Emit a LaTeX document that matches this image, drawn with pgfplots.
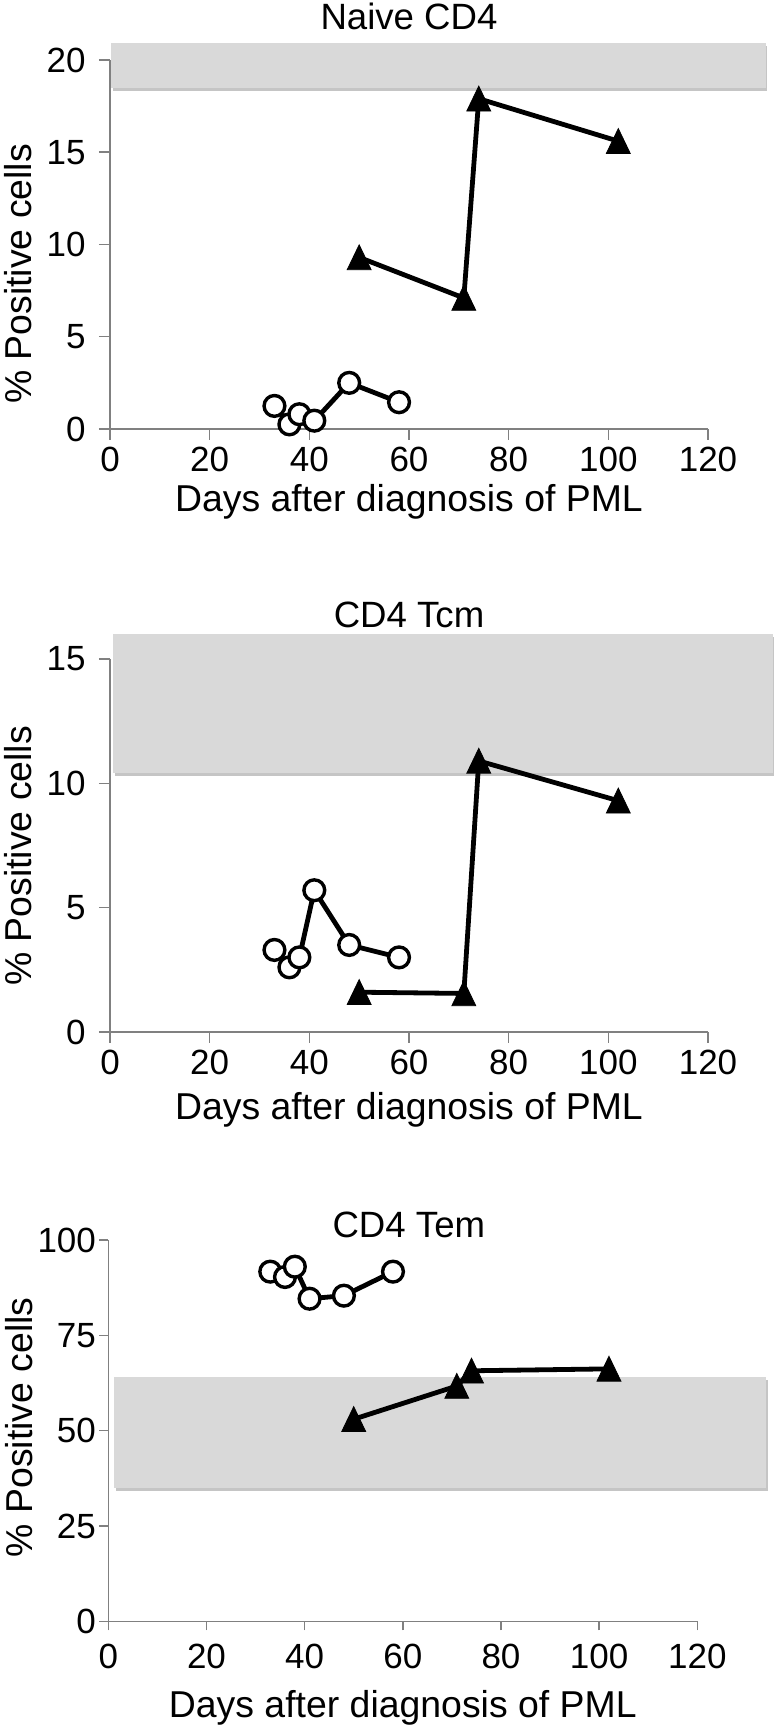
\documentclass[border=0pt]{standalone}
\usepackage{fontspec}
\setmainfont{Liberation Sans}
\usepackage{pgfplots}
\pgfplotsset{compat=1.18}

\definecolor{band}{RGB}{217,217,217}
\definecolor{bandshadow}{RGB}{150,150,150}
\definecolor{axgray}{RGB}{128,128,128}
\newcommand\tickfont{\fontsize{17.5pt}{21pt}\selectfont}
\newcommand\titlefont{\fontsize{18.3pt}{22pt}\selectfont}
\newcommand\labelfont{\fontsize{18.7pt}{22pt}\selectfont}

\pgfplotsset{
  pmlpanel/.style={
    scale only axis, anchor=south west, clip=false,
    axis x line*=bottom, axis y line*=left,
    axis line style={axgray, line width=0.75pt},
    tick style={axgray, line width=0.75pt},
    tick align=outside, major tick length=5.5pt,
    xmin=0, xmax=120, xtick={0,20,...,120},
    ymin=0,
    /pgf/number format/assume math mode=true,
    tick label style={font=\tickfont, text=black, inner sep=0pt},
    % the default title style already adds yshift=6pt
    title style={font=\titlefont, anchor=base},
    xlabel={Days after diagnosis of PML},
    ylabel={\% Positive cells},
    label style={font=\labelfont},
    xlabel style={anchor=base},
    ylabel style={anchor=base},
  },
  shadowband/.style={fill=bandshadow, draw=none, opacity=0.55, xshift=0.8pt, yshift=-1.4pt},
  mainband/.style={fill=band, draw=none},
  patientA/.style={black, line width=2.4pt, mark=*, mark size=5.2pt,
    mark options={solid, fill=white, draw=black, line width=1.7pt}},
  patientB/.style={black, line width=2.4pt, mark=triangle*, mark size=6.9pt,
    mark options={solid, fill=black, draw=black, line width=0.4pt, yshift=-2pt, yscale=1.2}},
}

\begin{document}
\begin{tikzpicture}
\useasboundingbox (0,0) rectangle (388.5pt,863.5pt);

% Naive CD4
\begin{axis}[pmlpanel, at={(55pt,649pt)}, width=299pt, height=184.5pt,
  ymax=20, ytick={0,5,...,20}, title={Naive CD4},
  yticklabel style={xshift=-6.5pt}, xticklabel style={yshift=-3.3pt},
  title style={at={([yshift=9pt]axis description cs:0.5,1)}},
  xlabel style={at={([yshift=-41.5pt]axis description cs:0.5,0)}},
  ylabel style={at={([xshift=-39pt]axis description cs:0,0.42)}}]
  \addplot[shadowband] coordinates {(0.3,18.47) (131.6,18.47) (131.6,20.9) (0.3,20.9)} -- cycle;
  \addplot[mainband] coordinates {(0.3,18.47) (131.6,18.47) (131.6,20.9) (0.3,20.9)} -- cycle;
  \addplot[patientA] coordinates {(33,1.25) (36,0.25) (38,0.8) (41,0.45) (48,2.5) (58,1.45)};
  \addplot[patientB] coordinates {(50,9.3) (71,7.1) (74,17.9) (102,15.6)};
\end{axis}

% CD4 Tcm
\begin{axis}[pmlpanel, at={(55pt,347.5pt)}, width=299pt, height=186.5pt,
  ymax=15, ytick={0,5,...,15}, title={CD4 Tcm},
  yticklabel style={xshift=-6.5pt}, xticklabel style={yshift=-3.3pt},
  title style={at={([yshift=9.8pt]axis description cs:0.5,1)}},
  xlabel style={at={([yshift=-44pt]axis description cs:0.5,0)}},
  ylabel style={at={([xshift=-39pt]axis description cs:0,0.472)}}]
  \addplot[shadowband] coordinates {(0.6,10.4) (133,10.4) (133,16) (0.6,16)} -- cycle;
  \addplot[mainband] coordinates {(0.6,10.4) (133,10.4) (133,16) (0.6,16)} -- cycle;
  \addplot[patientA] coordinates {(33,3.3) (36,2.6) (38,3.0) (41,5.7) (48,3.5) (58,3.0)};
  \addplot[patientB] coordinates {(50,1.6) (71,1.55) (74,10.9) (102,9.3)};
\end{axis}

% CD4 Tem
\begin{axis}[pmlpanel, at={(54.15pt,52.85pt)}, width=294.5pt, height=190.65pt,
  ymax=100, ytick={0,25,...,100}, title={CD4 Tem},
  major tick length=4.5pt,
  yticklabel style={xshift=-1.5pt}, xticklabel style={yshift=-6.8pt},
  title style={at={([xshift=3pt,yshift=-5pt]axis description cs:0.5,1)}},
  xlabel style={at={([yshift=-48pt]axis description cs:0.5,0)}},
  ylabel style={at={([xshift=-38pt]axis description cs:0,0.509)}}]
  \addplot[shadowband] coordinates {(1.2,35) (134,35) (134,64) (1.2,64)} -- cycle;
  \addplot[mainband] coordinates {(1.2,35) (134,35) (134,64) (1.2,64)} -- cycle;
  \addplot[patientA] coordinates {(33,91.7) (36,90.3) (38,93.0) (41,84.6) (48,85.4) (58,91.7)};
  \addplot[patientB] coordinates {(50,53.0) (71,61.7) (74,65.7) (102,66.2)};
\end{axis}
\end{tikzpicture}
\end{document}
